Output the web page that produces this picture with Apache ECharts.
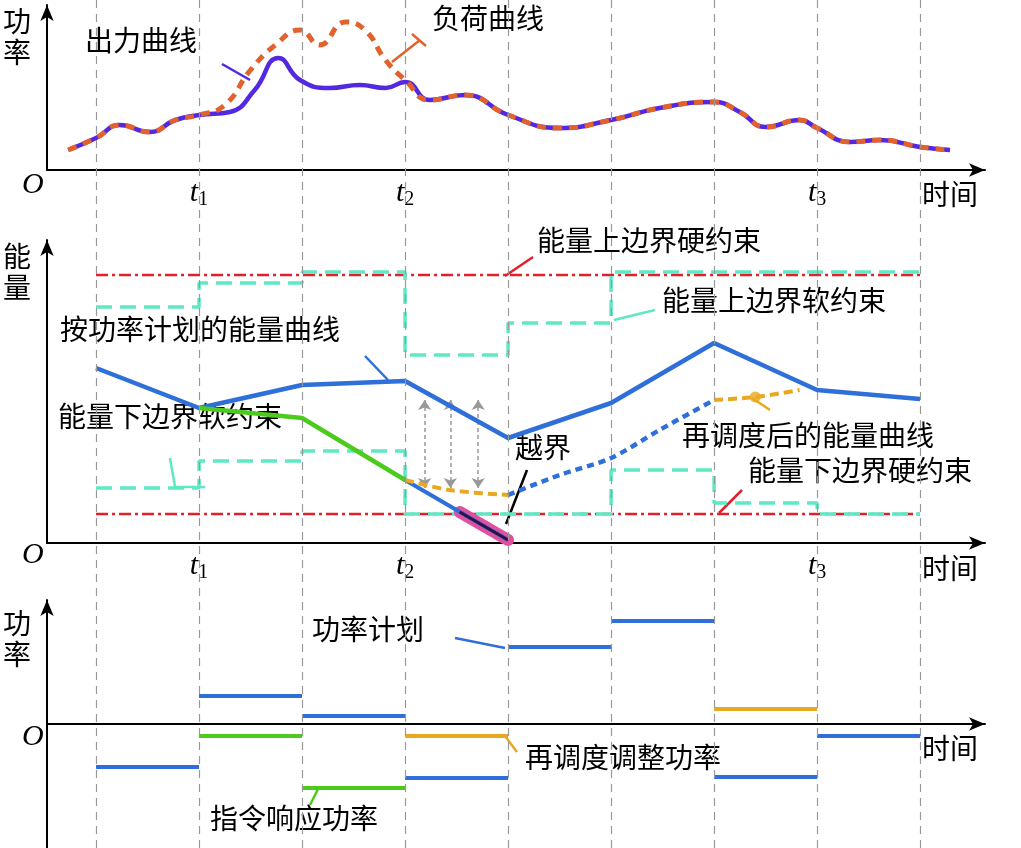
<!DOCTYPE html>
<html><head><meta charset="utf-8">
<script src="https://cdn.jsdelivr.net/npm/echarts@6/dist/echarts.min.js"></script>
<style>html,body{margin:0;background:#fff}#chart{width:1021px;height:848px}</style>
</head><body><div id="chart"></div>
<script>
// x in time-slot units (0 = first dashed line), y in arbitrary units per panel
const loadX = [-0.27,0,0.23,0.52,0.77,1,1.25,1.5,1.74,1.98,2.17,2.42,2.61,2.81,3,3.24,3.58,4,4.5,5,5.47,6,6.25,6.5,6.83,7,7.32,7.61,8,8.29];
const loadV = [20,32,45,38,50,55,65,100,125,140,125,148,140,110,90,70,75,55,42,50,62,68,58,43,50,42,28,30,23,20];
const outX = [-0.27,0,0.23,0.52,0.77,1,1.3,1.54,1.77,1.98,2.27,2.56,2.81,3,3.24,3.58,4,4.5,5,5.47,6,6.25,6.5,6.83,7,7.32,7.61,8,8.29];
const outV = [20,32,45,38,50,55,58,80,112,90,82,85,82,88,70,75,55,42,50,62,68,58,43,50,42,28,30,23,20];

const slots = [0,1,2,3,4,5,6,7,8];
const hardUpper = 268, hardLower = 29;
const softUpper = [236,260,271,188,220,271,271,271];
const softLower = [55,82,92,29,29,73,40,29];
const planEnergy = [175,135,158,162,105,140,200,153,144];
const cmdEnergyX = [1,2,3], cmdEnergyV = [135,125,63];
const overX = [3,4], overV = [63,3];
const redispAX = [3,3.43,4], redispAV = [63,53,48];
const redispBX = [4,4.5,5,5.47,6], redispBV = [48,68,85,113,143];
const redispCX = [6,6.4,6.83], redispCV = [143,146,153];
const arrowX = [3.19,3.44,3.71], arrowTop = 143, arrowBot = 55;

const planPower = [-43,28,8,-54,77,103,-53,-12];
const cmdPower = [null,-12,-64,null,null,null,null,null];
const redispPower = [null,null,null,-12,null,null,15,null];

const chart = echarts.init(document.getElementById('chart'));
const black = '#000';
const cjk = '"Noto Sans CJK SC"';
const xr = {min:-0.476, max:8.63};

function pairs(xs, vs){ return xs.map((x,i)=>[x,vs[i]]); }
function steps(vals){
  const d=[];
  vals.forEach((v,i)=>{ d.push([i,v]); d.push([i+1,v]); });
  return d;
}
function segs(vals){ const d=[]; vals.forEach((v,i)=>{ if(v!==null){d.push([i,v],[i+1,v],[i+1,null]);} }); return d; }

function xAxis(idx, labelMargin){
  return {type:'value', gridIndex:idx, ...xr, splitLine:{show:false}, axisTick:{show:false},
    axisLine:{onZero:true, symbol:['none','arrow'], symbolSize:[10,16], lineStyle:{color:black,width:2}},
    axisLabel:{customValues:[1,3,7], margin:labelMargin, formatter:v=>'{t|t}{s|'+({1:1,3:2,7:3})[v]+'}',
      rich:{t:{fontFamily:'Liberation Serif',fontStyle:'italic',fontSize:30,color:black},
            s:{fontFamily:'Liberation Serif',fontSize:20,color:black,verticalAlign:'bottom',padding:[14,0,0,0]}}}};
}
function yAxis(idx,min,max){
  return {type:'value', gridIndex:idx, min, max, splitLine:{show:false}, axisTick:{show:false}, axisLabel:{show:false},
    axisLine:{onZero:false, symbol:['none','arrow'], symbolSize:[10,16], lineStyle:{color:black,width:2}}};
}

const txt = (x,y,t,extra)=>({type:'text', left:x, top:y, style:{text:t, font:'28px '+cjk, fill:black, ...extra}});
const ln = (x1,y1,x2,y2,c)=>({type:'line', shape:{x1,y1,x2,y2}, style:{stroke:c,lineWidth:2.5}});
const ital = (x,y,t)=>({type:'text', left:x, top:y, style:{text:t, font:'italic 30px "Liberation Serif"', fill:black}});

const cyan='#5EE8C4', red='#E0202A', blue='#2E6FD9', orange='#E8A820', green='#4CCB1E';
const gb = {left:47,right:36,outerBoundsMode:'none',containLabel:false};

chart.setOption({
  animation:false,
  grid:[
    {...gb,top:5,height:165},
    {...gb,top:240,height:303},
    {...gb,top:600,height:248},
    {...gb,top:0,height:848}
  ],
  xAxis:[xAxis(0,6), xAxis(1,6), xAxis(2,6), {type:'value',gridIndex:3,...xr,show:false}],
  yAxis:[yAxis(0,0,165), yAxis(1,0,303), yAxis(2,-124,124), {type:'value',gridIndex:3,min:0,max:1,show:false}],
  series:[
    {type:'line',xAxisIndex:3,yAxisIndex:3,data:[],silent:true,
      markLine:{symbol:'none',label:{show:false},lineStyle:{color:'#999',type:[8,6],width:1.2},
        data:slots.map(s=>({xAxis:s}))}},
    // top panel
    {type:'line',xAxisIndex:0,yAxisIndex:0,smooth:0.5,symbol:'none',data:pairs(outX,outV),lineStyle:{color:'#5229E0',width:4.5}},
    {type:'line',xAxisIndex:0,yAxisIndex:0,smooth:0.5,symbol:'none',data:pairs(loadX,loadV),lineStyle:{color:'#E2622E',width:5,type:[9,7]}},
    // middle panel
    {type:'line',xAxisIndex:1,yAxisIndex:1,symbol:'none',data:[[0,hardUpper],[8,hardUpper]],lineStyle:{color:red,width:2.5,type:[12,4,3,4]}},
    {type:'line',xAxisIndex:1,yAxisIndex:1,symbol:'none',data:[[0,hardLower],[8,hardLower]],lineStyle:{color:red,width:2.5,type:[12,4,3,4]}},
    {type:'line',xAxisIndex:1,yAxisIndex:1,symbol:'none',data:steps(softUpper),lineStyle:{color:cyan,width:3.5,type:[16,8]}},
    {type:'line',xAxisIndex:1,yAxisIndex:1,symbol:'none',data:steps(softLower),lineStyle:{color:cyan,width:3.5,type:[16,8]}},
    {type:'line',xAxisIndex:1,yAxisIndex:1,symbol:'none',data:pairs(slots,planEnergy),lineStyle:{color:blue,width:4.5}},
    {type:'line',xAxisIndex:1,yAxisIndex:1,symbol:'none',data:pairs(cmdEnergyX,cmdEnergyV),lineStyle:{color:green,width:4.5}},
    {type:'line',xAxisIndex:1,yAxisIndex:1,symbol:'none',data:[[3.53,31],[4,3]],lineStyle:{color:'#E050A0',width:12,cap:'round'}},
    {type:'line',xAxisIndex:1,yAxisIndex:1,symbol:'none',data:pairs(overX,overV),lineStyle:{color:blue,width:4}},
    {type:'line',xAxisIndex:1,yAxisIndex:1,symbol:'none',data:[[3.53,31],[4,3]],lineStyle:{color:'#301040',width:3}},
    {type:'line',xAxisIndex:1,yAxisIndex:1,smooth:0.3,symbol:'none',data:pairs(redispAX,redispAV),lineStyle:{color:orange,width:4,type:[9,5]}},
    {type:'line',xAxisIndex:1,yAxisIndex:1,smooth:0.3,symbol:'none',data:pairs(redispBX,redispBV),lineStyle:{color:blue,width:4.5,type:[7,5]}},
    {type:'line',xAxisIndex:1,yAxisIndex:1,smooth:0.3,symbol:'none',data:pairs(redispCX,redispCV),lineStyle:{color:orange,width:4,type:[9,5]}},
    {type:'scatter',xAxisIndex:1,yAxisIndex:1,symbolSize:11,data:[[6.4,146]],itemStyle:{color:orange}},
    {type:'lines',coordinateSystem:'cartesian2d',xAxisIndex:1,yAxisIndex:1,symbol:['arrow','arrow'],symbolSize:10,
      lineStyle:{color:'#999',width:1.5,type:[4,3],opacity:1},
      data:arrowX.map(x=>({coords:[[x,arrowTop],[x,arrowBot]]}))},
    // bottom panel
    {type:'line',xAxisIndex:2,yAxisIndex:2,symbol:'none',connectNulls:false,data:segs(planPower),lineStyle:{color:blue,width:4}},
    {type:'line',xAxisIndex:2,yAxisIndex:2,symbol:'none',connectNulls:false,data:segs(cmdPower),lineStyle:{color:green,width:4}},
    {type:'line',xAxisIndex:2,yAxisIndex:2,symbol:'none',connectNulls:false,data:segs(redispPower),lineStyle:{color:orange,width:4}}
  ],
  graphic:[
    txt(3,6,'功\n率',{lineHeight:31}), txt(3,241,'能\n量',{lineHeight:31}), txt(3,608,'功\n率',{lineHeight:31}),
    ital(22,170,'O'), ital(22,540,'O'), ital(22,722,'O'),
    txt(922,180,'时间'), txt(922,554,'时间'), txt(922,734,'时间'),
    txt(85,26,'出力曲线'), ln(222,64,250,80,'#5229E0'),
    txt(432,4,'负荷曲线'), ln(420,40,392,62,'#E2622E'), ln(412,34,426,46,'#E2622E'),
    txt(537,226,'能量上边界硬约束'), ln(533,257,505,276,red),
    txt(662,286,'能量上边界软约束'), ln(655,310,614,320,cyan),
    txt(60,315,'按功率计划的能量曲线'), ln(365,356,388,380,blue),
    txt(58,402,'能量下边界软约束'), ln(170,458,175,487,cyan), ln(175,487,205,487,cyan),
    txt(515,433,'越界'), ln(527,470,506,524,black),
    txt(682,421,'再调度后的能量曲线'), ln(770,410,752,398,orange),
    txt(748,456,'能量下边界硬约束'), ln(742,490,719,513,red),
    txt(312,615,'功率计划'), ln(455,638,505,648,blue),
    txt(525,743,'再调度调整功率'), ln(517,752,505,736,orange),
    txt(210,804,'指令响应功率'), ln(310,805,318,789,green)
  ]
});
</script></body></html>
